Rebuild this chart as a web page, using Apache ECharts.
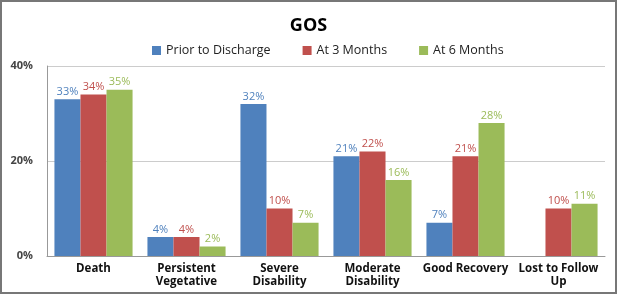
<!DOCTYPE html>
<html>
<head>
<meta charset="utf-8">
<script src="https://cdn.jsdelivr.net/npm/echarts@6/dist/echarts.min.js"></script>
<style>
  html, body { margin: 0; padding: 0; background: #fff; }
  #chart { width: 613px; height: 290px; border: 2px solid #777; }
</style>
</head>
<body>
<div id="chart"></div>
<script>
const categories = [
  'Death',
  'Persistent\nVegetative',
  'Severe\nDisability',
  'Moderate\nDisability',
  'Good Recovery',
  'Lost to Follow\nUp',
];
const priorToDischarge = [33, 4, 32, 21, 7, null];
const at3Months = [34, 4, 10, 22, 21, 10];
const at6Months = [35, 2, 7, 16, 28, 11];
const yTicks = [0, 20, 40];

const color = ['#4F81BD', '#C0504D', '#9BBB59'];

const chart = echarts.init(document.getElementById('chart'));

const makeSeries = (name, data, idx) => ({
  name,
  type: 'bar',
  data,
  barGap: '0%',
  barCategoryGap: '16%',
  itemStyle: { color: color[idx] },
  label: {
    show: true,
    position: 'top',
    distance: 2,
    formatter: (p) => p.value + '%',
    color: color[idx],
    fontFamily: 'Open Sans',
    fontSize: 11,
  },
});

chart.setOption({
  animation: false,
  backgroundColor: '#fff',
  title: {
    text: 'GOS',
    left: 'center',
    top: 10,
    textStyle: { fontFamily: 'Open Sans', fontWeight: 'bold', fontSize: 18, color: '#000' },
  },
  legend: {
    top: 37,
    left: 145,
    itemWidth: 9,
    itemHeight: 9,
    itemGap: 32,
    icon: 'rect',
    textStyle: { fontFamily: 'Open Sans', fontSize: 12.5, color: '#222' },
  },
  grid: { left: 45, right: 10, top: 64, bottom: 36 },
  xAxis: {
    type: 'category',
    data: categories,
    axisTick: { show: false },
    axisLine: { lineStyle: { color: '#999' } },
    axisLabel: {
      interval: 0,
      fontFamily: 'Open Sans',
      fontWeight: 'bold',
      fontSize: 11.5,
      color: '#111',
      lineHeight: 13,
      margin: 6,
    },
  },
  yAxis: {
    type: 'value',
    min: yTicks[0],
    max: yTicks[yTicks.length - 1],
    interval: 20,
    axisLine: { show: true, lineStyle: { color: '#999' } },
    axisLabel: {
      formatter: (v) => v + '%',
      fontFamily: 'Open Sans',
      fontWeight: 'bold',
      fontSize: 11,
      color: '#444',
      margin: 14,
    },
    splitLine: { lineStyle: { color: '#ccc' } },
  },
  series: [
    makeSeries('Prior to Discharge', priorToDischarge, 0),
    makeSeries('At 3 Months', at3Months, 1),
    makeSeries('At 6 Months', at6Months, 2),
  ],
});
</script>
</body>
</html>
